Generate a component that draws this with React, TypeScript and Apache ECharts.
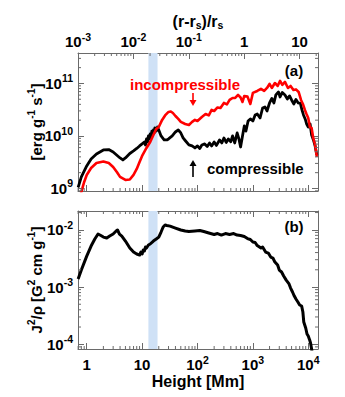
import React, { useEffect, useRef } from 'react';
import * as echarts from 'echarts';

// ---- data (heights in Mm) ----
const R_SUN = 696; // Mm, for the (r - rs)/rs axis
const heightRange = [0.696, 15000];
const energyRange = [8.95e8, 3.8e11];
const j2Range = [8.26e-5, 0.0213];
const bandRange = [13, 19];

const compHeight = [0.7, 0.8, 1, 1.2, 1.5, 2, 2.5, 3, 4, 4.5, 5, 6, 7, 8, 9, 10, 11, 11.5, 12, 12.5, 13, 13.5, 14, 14.5, 15, 15.5, 16, 16.5, 17, 18, 19, 20, 22, 25, 28, 30, 35, 40, 45, 50, 55, 60, 70, 80, 90, 100, 110, 120, 135, 150, 165, 180, 200, 220, 250, 275, 300, 330, 360, 400, 430, 470, 520, 560, 600, 650, 700, 750, 820, 900, 1000, 1100, 1200, 1350, 1500, 1650, 1800, 2000, 2200, 2400, 2600, 2900, 3100, 3400, 3800, 4200, 4600, 5000, 5500, 6000, 6600, 7200, 7700, 8200, 8800, 9400, 10000, 10800, 11500, 12400, 13300, 14300];
const compValue = [1.05e9, 1.66e9, 2.68e9, 3.65e9, 4.54e9, 5.41e9, 5.5e9, 4.96e9, 3.81e9, 3.49e9, 3.81e9, 4.64e9, 5.18e9, 5.78e9, 6.45e9, 7.05e9, 7.69e9, 6.74e9, 8.77e9, 7.69e9, 1.0e10, 8.77e9, 1.09e10, 9.36e9, 1.24e10, 1.07e10, 1.3e10, 1.14e10, 1.42e10, 1.24e10, 1.48e10, 1.3e10, 1.0e10, 8.39e9, 8.39e9, 8.77e9, 1.0e10, 1.19e10, 1.3e10, 1.14e10, 9.16e9, 8.2e9, 6.74e9, 6.45e9, 5.91e9, 6.45e9, 5.78e9, 6.74e9, 7.05e9, 6.31e9, 7.36e9, 6.45e9, 7.69e9, 6.6e9, 8.39e9, 7.36e9, 9.16e9, 7.53e9, 8.77e9, 7.78e9, 1.0e10, 7.36e9, 1.14e10, 8.77e9, 6.17e9, 1.0e10, 1.55e10, 1.24e10, 1.93e10, 2.11e10, 1.93e10, 2.51e10, 2.62e10, 2.2e10, 3.41e10, 3.57e10, 2.99e10, 4.25e10, 5.18e10, 4.25e10, 6.04e10, 6.89e10, 5.53e10, 6.74e10, 6.04e10, 5.07e10, 5.78e10, 4.85e10, 4.07e10, 4.96e10, 4.25e10, 4.16e10, 3.13e10, 2.51e10, 2.11e10, 1.66e10, 1.48e10, 1.69e10, 1.04e10, 8.39e9, 6.45e9, 4.35e9];

const incompHeight = [0.75, 0.8, 0.9, 1, 1.2, 1.5, 2, 2.5, 3, 3.5, 4, 5, 6, 7, 8, 9, 10, 12, 14, 16, 18, 20, 23, 26, 30, 33, 36, 40, 45, 50, 60, 70, 80, 90, 100, 120, 140, 160, 180, 200, 230, 260, 300, 340, 380, 430, 480, 540, 600, 650, 700, 800, 900, 1000, 1200, 1400, 1600, 1800, 2000, 2200, 2500, 2800, 3100, 3400, 3800, 4300, 4800, 5400, 6000, 6700, 7400, 8000, 8700, 9300, 10000, 10700, 11500, 12300, 13200, 14300];
const incompValue = [6.6e8, 8.58e8, 1.33e9, 1.81e9, 2.45e9, 3.06e9, 3.27e9, 3.06e9, 2.57e9, 2.06e9, 1.66e9, 1.45e9, 1.48e9, 1.81e9, 2.35e9, 3.2e9, 4.16e9, 5.91e9, 7.69e9, 1.04e10, 1.36e10, 1.48e10, 2.02e10, 2.46e10, 2.87e10, 2.93e10, 2.74e10, 2.4e10, 2.11e10, 1.85e10, 1.69e10, 1.62e10, 1.85e10, 2.02e10, 1.93e10, 2.3e10, 2.62e10, 2.46e10, 3.13e10, 2.99e10, 3.49e10, 3.41e10, 4.25e10, 3.98e10, 4.85e10, 5.29e10, 5.29e10, 6.04e10, 5.41e10, 4.44e10, 5.78e10, 5.61e10, 4.07e10, 6.6e10, 7.19e10, 7.86e10, 7.19e10, 8.2e10, 9.78e10, 8.2e10, 1.02e11, 8.96e10, 1.12e11, 9.36e10, 1.07e11, 8.2e10, 8.96e10, 7.52e10, 7.7e10, 6.89e10, 4.85e10, 4.07e10, 3.13e10, 2.62e10, 2.2e10, 1.48e10, 1.42e10, 9.16e9, 7.05e9, 3.98e9];

const j2Height = [0.7, 0.8, 1, 1.2, 1.4, 1.6, 1.8, 2, 2.3, 2.6, 3, 3.4, 3.6, 3.9, 4.3, 5, 6, 7, 8, 9, 9.5, 10, 10.5, 11, 11.5, 12, 13, 14, 16, 18, 20, 22, 24, 26, 28, 32, 40, 50, 60, 70, 90, 110, 130, 160, 200, 230, 270, 320, 380, 450, 520, 600, 700, 800, 900, 1000, 1100, 1200, 1400, 1500, 1700, 1900, 2100, 2300, 2500, 2800, 3000, 3300, 3600, 4000, 4500, 4800, 5200, 5600, 6000, 6500, 7000, 7600, 8000, 8300, 9000, 9500, 10000, 10600, 11000, 11500, 12000];
const j2Value = [1.38e-3, 1.98e-3, 3.47e-3, 5.2e-3, 6.89e-3, 8.43e-3, 7.94e-3, 7.46e-3, 7.18e-3, 7.78e-3, 8.43e-3, 9.51e-3, 9.91e-3, 8.43e-3, 7.78e-3, 6.36e-3, 4.8e-3, 4.08e-3, 3.77e-3, 3.62e-3, 4.08e-3, 3.77e-3, 4.43e-3, 4.26e-3, 5.0e-3, 4.8e-3, 5.42e-3, 5.64e-3, 6.36e-3, 6.89e-3, 7.46e-3, 9.14e-3, 1.12e-2, 1.21e-2, 1.19e-2, 1.16e-2, 1.07e-2, 9.91e-3, 9.51e-3, 9.32e-3, 9.51e-3, 9.7e-3, 9.32e-3, 8.78e-3, 8.27e-3, 8.6e-3, 8.09e-3, 8.6e-3, 8.27e-3, 8.6e-3, 8.09e-3, 7.94e-3, 7.62e-3, 7.03e-3, 6.76e-3, 6.11e-3, 6.0e-3, 5.31e-3, 4.8e-3, 5.0e-3, 4.08e-3, 3.92e-3, 3.34e-3, 3.21e-3, 2.73e-3, 2.42e-3, 1.98e-3, 1.83e-3, 1.56e-3, 1.32e-3, 1.13e-3, 9.6e-4, 8.18e-4, 6.96e-4, 6.17e-4, 5.47e-4, 4.85e-4, 4.66e-4, 3.66e-4, 2.45e-4, 1.92e-4, 1.51e-4, 1.39e-4, 1.19e-4, 1.05e-4, 8.26e-5, 6.2e-5];

// ---- styling ----
const FONT = '"Liberation Sans", Arial, Helvetica, sans-serif';
const AXIS_COLOR = '#6a6a6a';
const MAJOR = 6;
const MINOR = 3;
const LABEL_LH = 15;
const NAME_LH = 16;

const zip = (xs: number[], ys: number[]) => xs.map((x, i) => [x, ys[i]]);

function minorTicks(lo: number, hi: number) {
  const out: number[] = [];
  for (let k = Math.floor(Math.log10(lo)) - 1; k <= Math.ceil(Math.log10(hi)); k++) {
    for (let m = 2; m <= 9; m++) {
      const v = m * Math.pow(10, k);
      if (v > lo && v < hi) out.push(v);
    }
  }
  return out;
}

function powLabel(v: number, plainLow: boolean) {
  const lg = Math.log10(v);
  const e = Math.round(lg);
  if (Math.abs(lg - e) > 1e-6) return '';
  if (plainLow && e === 0) return '{b|1}';
  if (plainLow && e === 1) return '{b|10}';
  return `{b|10}{sup|${e < 0 ? '-' + -e : e}}`;
}

const labelRich = {
  b: { fontSize: 15, fontWeight: 'bold', fontFamily: FONT, color: '#000', lineHeight: LABEL_LH },
  sup: { fontSize: 10.5, fontWeight: 'bold', fontFamily: FONT, color: '#000', lineHeight: LABEL_LH, padding: [0, 0, 10, 0] },
};

const labelBase = { show: true, fontSize: 15, fontWeight: 'bold', fontFamily: FONT, color: '#000', rich: labelRich };

const nameRich = {
  t: { fontSize: 15, fontWeight: 'bold', fontFamily: FONT, color: '#000', lineHeight: NAME_LH },
  sup: { fontSize: 10, fontWeight: 'bold', fontFamily: FONT, color: '#000', lineHeight: NAME_LH, padding: [0, 0, 9, 0] },
  sub: { fontSize: 10.5, fontWeight: 'bold', fontFamily: FONT, color: '#000', lineHeight: NAME_LH, padding: [8, 0, 0, 0] },
};

function logAxis(extra: any) {
  return {
    type: 'log',
    logBase: 10,
    nameMoveOverlap: false,
    axisLine: { show: true, onZero: false, lineStyle: { color: AXIS_COLOR, width: 1 } },
    axisTick: { show: true, inside: true, length: MAJOR, lineStyle: { color: AXIS_COLOR } },
    splitLine: { show: false },
    axisLabel: { show: false },
    ...extra,
  };
}

function tickSeries(xi: number, yi: number, dim: 'x' | 'y', values: number[], anchor: number, sides: string[]) {
  return {
    type: 'custom',
    xAxisIndex: xi,
    yAxisIndex: yi,
    silent: true,
    z: 6,
    data: values.map((v) => (dim === 'x' ? [v, anchor] : [anchor, v])),
    renderItem: (params: any, api: any) => {
      const cs = params.coordSys;
      const p = api.coord([api.value(0), api.value(1)]);
      const children: any[] = [];
      sides.forEach((s) => {
        let shape;
        if (s === 'bottom') shape = { x1: p[0], y1: cs.y + cs.height, x2: p[0], y2: cs.y + cs.height - MINOR };
        else if (s === 'top') shape = { x1: p[0], y1: cs.y, x2: p[0], y2: cs.y + MINOR };
        else if (s === 'left') shape = { x1: cs.x, y1: p[1], x2: cs.x + MINOR, y2: p[1] };
        else shape = { x1: cs.x + cs.width, y1: p[1], x2: cs.x + cs.width - MINOR, y2: p[1] };
        children.push({ type: 'line', shape, style: { stroke: AXIS_COLOR, lineWidth: 1 } });
      });
      return { type: 'group', children };
    },
  };
}

// arrow drawn as a shaft plus a head (annotation only)
function arrow(x: number, yTail: number, yHead: number, color: string) {
  const dir = yHead > yTail ? 1 : -1;
  const headLen = 6;
  return {
    type: 'group',
    z: 10,
    children: [
      { type: 'line', shape: { x1: x, y1: yTail, x2: x, y2: yHead - dir * headLen * 0.6 }, style: { stroke: color, lineWidth: 1.6 } },
      {
        type: 'polygon',
        shape: { points: [[x - 3.5, yHead - dir * headLen], [x + 3.5, yHead - dir * headLen], [x, yHead]] },
        style: { fill: color },
      },
    ],
  };
}

export default function App() {
  const ref = useRef<HTMLDivElement>(null);

  useEffect(() => {
    if (!ref.current) return;
    const chart = echarts.init(ref.current, null, { renderer: 'svg' });
    const rsRange = [heightRange[0] / R_SUN, heightRange[1] / R_SUN];

    const option: any = {
      animation: false,
      backgroundColor: '#fff',
      grid: [
        { left: 78, top: 53, width: 240, height: 138 },
        { left: 78, top: 211, width: 240, height: 138 },
      ],
      xAxis: [
        logAxis({ gridIndex: 0, position: 'bottom', min: heightRange[0], max: heightRange[1] }),
        logAxis({
          gridIndex: 0,
          position: 'top',
          min: rsRange[0],
          max: rsRange[1],
          axisLabel: { ...labelBase, margin: 4, formatter: (v: number) => powLabel(v, true) },
          name: '{t|(r-r}{sub|s}{t|)/r}{sub|s}',
          nameLocation: 'middle',
          nameGap: 24,
          nameTextStyle: { rich: { ...nameRich, t: { ...nameRich.t, fontSize: 16 } } },
        }),
        logAxis({
          gridIndex: 1,
          position: 'bottom',
          min: heightRange[0],
          max: heightRange[1],
          axisLabel: { ...labelBase, margin: 8, formatter: (v: number) => powLabel(v, true) },
          name: '{t|Height [Mm]}',
          nameLocation: 'middle',
          nameGap: 24,
          nameTextStyle: { rich: { t: { ...nameRich.t, fontSize: 16 } } },
        }),
        logAxis({ gridIndex: 1, position: 'top', min: heightRange[0], max: heightRange[1] }),
      ],
      yAxis: [
        logAxis({
          gridIndex: 0,
          position: 'left',
          min: energyRange[0],
          max: energyRange[1],
          axisLabel: { ...labelBase, margin: 5, formatter: (v: number) => powLabel(v, false) },
          name: '{t|[erg g}{sup|-1}{t| s}{sup|-1}{t|]}',
          nameLocation: 'middle',
          nameRotate: 90,
          nameGap: 34,
          nameTextStyle: { rich: nameRich },
        }),
        logAxis({ gridIndex: 0, position: 'right', min: energyRange[0], max: energyRange[1] }),
        logAxis({
          gridIndex: 1,
          position: 'left',
          min: j2Range[0],
          max: j2Range[1],
          axisLabel: { ...labelBase, margin: 5, formatter: (v: number) => powLabel(v, false) },
          name: '{t|J}{sup|2}{t|/\u03c1 [G}{sup|2}{t| cm g}{sup|-1}{t|]}',
          nameLocation: 'middle',
          nameRotate: 90,
          nameGap: 34,
          nameTextStyle: { rich: nameRich },
        }),
        logAxis({ gridIndex: 1, position: 'right', min: j2Range[0], max: j2Range[1] }),
      ],
      series: [
        {
          type: 'line',
          xAxisIndex: 0,
          yAxisIndex: 0,
          data: [],
          z: 1,
          markArea: {
            silent: true,
            itemStyle: { color: '#cfe1f6' },
            data: [[{ xAxis: bandRange[0] }, { xAxis: bandRange[1] }]],
          },
        },
        {
          type: 'line',
          xAxisIndex: 2,
          yAxisIndex: 2,
          data: [],
          z: 1,
          markArea: {
            silent: true,
            itemStyle: { color: '#cfe1f6' },
            data: [[{ xAxis: bandRange[0] }, { xAxis: bandRange[1] }]],
          },
        },
        {
          name: 'compressible',
          type: 'line',
          xAxisIndex: 0,
          yAxisIndex: 0,
          data: zip(compHeight, compValue),
          showSymbol: false,
          z: 3,
          lineStyle: { color: '#000', width: 2.8, join: 'round' },
        },
        {
          name: 'incompressible',
          type: 'line',
          xAxisIndex: 0,
          yAxisIndex: 0,
          data: zip(incompHeight, incompValue),
          showSymbol: false,
          z: 4,
          lineStyle: { color: '#ff0000', width: 2.6, join: 'round' },
        },
        {
          name: 'J2/rho',
          type: 'line',
          xAxisIndex: 2,
          yAxisIndex: 2,
          data: zip(j2Height, j2Value),
          showSymbol: false,
          z: 3,
          lineStyle: { color: '#000', width: 3, join: 'round' },
        },
        tickSeries(0, 0, 'x', minorTicks(heightRange[0], heightRange[1]), 1e10, ['bottom']),
        tickSeries(1, 0, 'x', minorTicks(rsRange[0], rsRange[1]), 1e10, ['top']),
        tickSeries(0, 0, 'y', minorTicks(energyRange[0], energyRange[1]), 10, ['left', 'right']),
        tickSeries(2, 2, 'x', minorTicks(heightRange[0], heightRange[1]), 1e-3, ['bottom', 'top']),
        tickSeries(2, 2, 'y', minorTicks(j2Range[0], j2Range[1]), 10, ['left', 'right']),
      ],
      graphic: [
        { type: 'text', x: 130, y: 84, z: 10, style: { text: 'incompressible', fill: '#ff0000', font: `bold 15px ${FONT}`, verticalAlign: 'middle' } },
        arrow(193, 93, 106, '#ff0000'),
        arrow(193, 177, 160, '#000000'),
        { type: 'text', x: 207, y: 168, z: 10, style: { text: 'compressible', fill: '#000', font: `bold 15px ${FONT}`, verticalAlign: 'middle' } },
        { type: 'text', x: 294, y: 70, z: 10, style: { text: '(a)', fill: '#000', font: `bold 15px ${FONT}`, align: 'center', verticalAlign: 'middle' } },
        { type: 'text', x: 294, y: 226, z: 10, style: { text: '(b)', fill: '#000', font: `bold 15px ${FONT}`, align: 'center', verticalAlign: 'middle' } },
      ],
    };

    chart.setOption(option);
    return () => chart.dispose();
  }, []);

  return <div ref={ref} style={{ position: 'fixed', left: 0, top: 0, width: 345, height: 397, background: '#fff' }} />;
}
